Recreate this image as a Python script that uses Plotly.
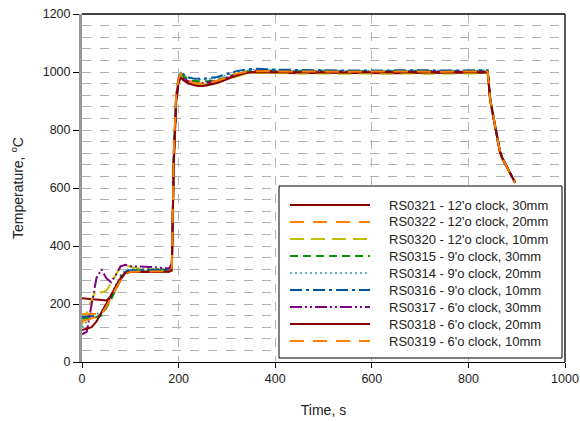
import plotly.graph_objects as go

# ---- data ----
T_EARLY = [0, 10, 20, 30, 40, 50, 60, 70, 80, 90, 100, 120, 140, 160, 180]
T_LATE = [186, 190, 195, 200, 205, 210, 220, 230, 240, 250,
          260, 280, 300, 320, 340, 360, 400, 450, 500, 550,
          600, 650, 700, 750, 800, 840, 845, 850, 855, 860,
          865, 870, 880, 890, 897]

NAMES = ["RS0321 - 12'o clock, 30mm", "RS0322 - 12'o clock, 20mm", "RS0320 - 12'o clock, 10mm",
         "RS0315 - 9'o clock, 30mm", "RS0314 - 9'o clock, 20mm", "RS0316 - 9'o clock, 10mm",
         "RS0317 - 6'o clock, 30mm", "RS0318 - 6'o clock, 20mm", "RS0319 - 6'o clock, 10mm"]

RS0321_E = [220, 219, 218, 216, 214, 212, 225, 255, 285, 308, 312, 312, 312, 312, 312]
RS0322_E = [165, 166, 166, 165, 168, 195, 225, 255, 285, 305, 310, 312, 312, 312, 313]
RS0320_E = [130, 175, 215, 250, 240, 245, 270, 300, 330, 335, 328, 322, 320, 318, 318]
RS0315_E = [150, 152, 153, 155, 160, 185, 215, 250, 285, 310, 315, 316, 317, 317, 318]
RS0314_E = [120, 140, 155, 165, 175, 200, 235, 270, 300, 318, 320, 321, 321, 322, 322]
RS0316_E = [155, 157, 158, 158, 162, 190, 222, 258, 292, 312, 316, 317, 318, 318, 318]
RS0317_E = [95, 105, 200, 290, 320, 290, 275, 300, 330, 335, 330, 330, 328, 325, 322]
RS0318_E = [110, 115, 120, 140, 170, 200, 232, 262, 290, 308, 310, 310, 310, 311, 311]
RS0319_E = [140, 145, 150, 155, 165, 190, 222, 252, 282, 303, 310, 312, 313, 313, 313]

RS0321_L = [330, 700, 910, 970, 985, 975, 962, 958, 955, 955,
            957, 965, 978, 990, 998, 1000, 998, 996, 997, 996,
            997, 996, 997, 996, 997, 998, 910, 860, 815, 765,
            728, 705, 670, 640, 619]
RS0322_L = [320, 720, 920, 975, 992, 982, 968, 962, 958, 958,
            960, 968, 980, 992, 1000, 1003, 1002, 1001, 1002, 1001,
            1002, 1001, 1002, 1001, 1002, 1002, 905, 858, 812, 762,
            726, 703, 668, 638, 618]
RS0320_L = [330, 690, 905, 968, 988, 978, 965, 960, 957, 956,
            958, 965, 975, 986, 994, 997, 996, 994, 995, 994,
            995, 994, 995, 994, 995, 996, 900, 855, 810, 760,
            725, 700, 668, 638, 618]
RS0315_L = [325, 710, 915, 975, 995, 985, 975, 970, 968, 967,
            968, 973, 983, 994, 1002, 1005, 1004, 1003, 1004, 1003,
            1004, 1003, 1004, 1003, 1004, 1004, 908, 860, 815, 765,
            728, 704, 670, 640, 619]
RS0314_L = [330, 720, 920, 980, 998, 990, 980, 976, 974, 974,
            975, 980, 990, 1000, 1006, 1008, 1006, 1004, 1005, 1004,
            1005, 1004, 1005, 1004, 1005, 1005, 910, 862, 816, 766,
            730, 705, 670, 640, 619]
RS0316_L = [325, 715, 920, 980, 1000, 992, 982, 978, 977, 977,
            978, 983, 993, 1003, 1009, 1011, 1008, 1006, 1006, 1005,
            1006, 1005, 1006, 1005, 1006, 1006, 910, 862, 816, 766,
            730, 705, 670, 640, 619]
RS0317_L = [340, 700, 905, 965, 985, 978, 968, 964, 962, 962,
            964, 970, 981, 992, 1000, 1004, 1002, 1000, 1001, 1000,
            1001, 1000, 1001, 1000, 1001, 1001, 905, 858, 812, 763,
            727, 703, 669, 639, 618]
RS0318_L = [315, 680, 900, 965, 980, 972, 960, 955, 952, 952,
            954, 962, 975, 988, 997, 1000, 999, 998, 999, 998,
            999, 998, 999, 998, 999, 999, 905, 858, 813, 763,
            727, 703, 669, 639, 617]
RS0319_L = [322, 725, 925, 978, 994, 984, 970, 963, 960, 960,
            962, 970, 982, 994, 1001, 1003, 1002, 1001, 1002, 1001,
            1002, 1001, 1002, 1001, 1002, 1002, 906, 859, 813, 763,
            727, 704, 669, 639, 618]

EARLY = [RS0321_E, RS0322_E, RS0320_E, RS0315_E, RS0314_E, RS0316_E, RS0317_E, RS0318_E, RS0319_E]
LATE = [RS0321_L, RS0322_L, RS0320_L, RS0315_L, RS0314_L, RS0316_L, RS0317_L, RS0318_L, RS0319_L]

COLORS = ["#8B0000", "#FF8000", "#BFBF00", "#009900", "#339999", "#0055A0", "#800080", "#8B0000", "#FF8000"]
DASHES = ["solid", "14px,9px", "14px,7px", "8px,5px", "2px,3px", "12px,4px,3px,4px",
          "12px,3px,2px,3px,2px,3px", "solid", "14px,9px"]
WIDTHS = [2, 2, 2, 2, 1.5, 2, 2, 2, 2]

W, H = 580, 421
ML, MR, MT, MB = 82, 15, 14, 59
PW, PH = W - ML - MR, H - MT - MB


def px_x(px):
    return (px - ML) / PW


def px_y(py):
    return (H - MB - py) / PH


fig = go.Figure()
for name, e, l, c, d, w in zip(NAMES, EARLY, LATE, COLORS, DASHES, WIDTHS):
    fig.add_trace(go.Scatter(x=T_EARLY + T_LATE, y=e + l, mode="lines", name=name,
                             showlegend=False, line=dict(color=c, dash=d, width=w)))

shapes = []
annotations = []
# legend box
shapes.append(dict(type="rect", xref="paper", yref="paper",
                   x0=px_x(279), x1=px_x(562), y0=px_y(358), y1=px_y(186),
                   fillcolor="white", line=dict(color="black", width=1), layer="above"))
for i, (name, c, d, w) in enumerate(zip(NAMES, COLORS, DASHES, WIDTHS)):
    yy = px_y(205 + 17 * i)
    shapes.append(dict(type="line", xref="paper", yref="paper",
                       x0=px_x(290), x1=px_x(370), y0=yy, y1=yy,
                       line=dict(color=c, dash=d, width=w), layer="above"))
    annotations.append(dict(xref="paper", yref="paper", x=px_x(387), y=yy,
                            xanchor="left", yanchor="middle", text=name, showarrow=False,
                            font=dict(size=13, color="#222")))
# top and right frame
shapes.append(dict(type="line", xref="paper", yref="paper", x0=1, x1=1, y0=0, y1=1,
                   line=dict(color="black", width=1.3)))
shapes.append(dict(type="line", xref="paper", yref="paper", x0=0, x1=1, y0=1, y1=1,
                   line=dict(color="black", width=1.3)))

fig.update_layout(
    width=W, height=H,
    margin=dict(l=ML, r=MR, t=MT, b=MB),
    paper_bgcolor="white", plot_bgcolor="white",
    font=dict(family="Liberation Sans, Arial, sans-serif", size=12, color="#222"),
    showlegend=False,
    shapes=shapes, annotations=annotations,
    xaxis=dict(range=[0, 1000], dtick=200, showline=True, linecolor="black", linewidth=1.3,
               ticks="outside", ticklen=5, tickcolor="black",
               showgrid=True, gridcolor="#b5b5b5", griddash="dash", gridwidth=1,
               zeroline=False, automargin=False, tickfont=dict(size=12.5),
               title=dict(text="Time, s", font=dict(size=14), standoff=20)),
    yaxis=dict(range=[0, 1200], dtick=200, showline=True, linecolor="#999999", linewidth=3,
               ticks="outside", ticklen=6, tickcolor="black",
               showgrid=True, gridcolor="#b0b0b0", griddash="dash", gridwidth=1,
               minor=dict(dtick=40, showgrid=True, gridcolor="#b0b0b0", griddash="dash", gridwidth=1),
               zeroline=False, automargin=False, tickfont=dict(size=12.5),
               title=dict(text="Temperature, <sup>o</sup>C", font=dict(size=14), standoff=16)),
)

fig.write_html("out.html", config={"displayModeBar": False},
               post_script="document.body.style.margin='0';")
